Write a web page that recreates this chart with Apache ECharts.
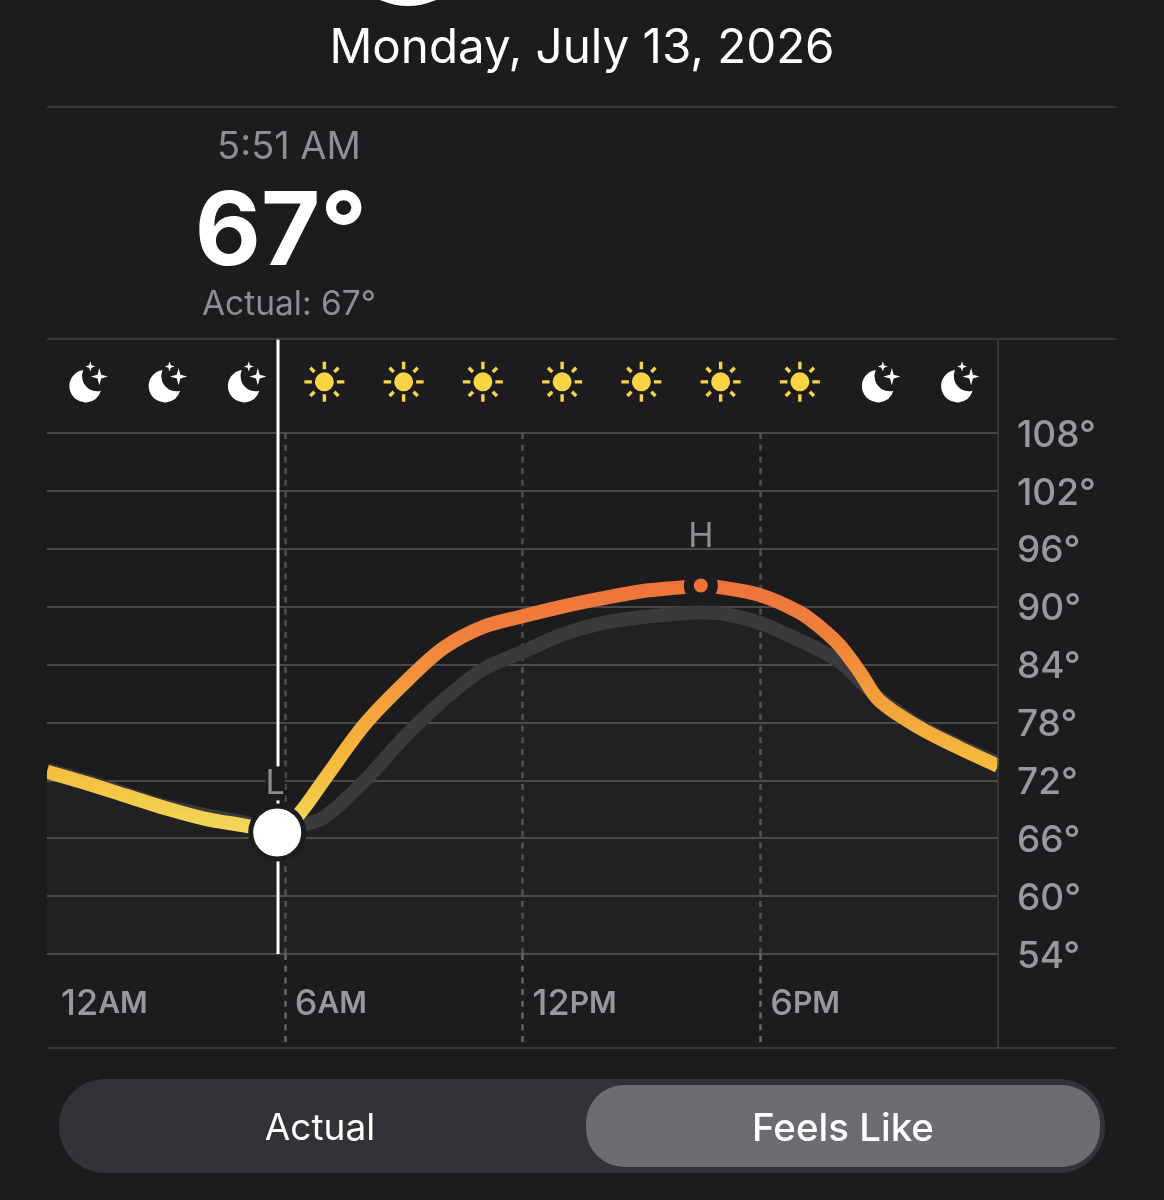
<!DOCTYPE html>
<html><head><meta charset="utf-8">
<style>html,body{margin:0;padding:0;background:#1c1c1e}#c{width:1164px;height:1200px}</style>
<script src="https://cdn.jsdelivr.net/npm/echarts@6/dist/echarts.min.js"></script>
</head><body><div id="c"></div>
<script>
const dateText = 'Monday, July 13, 2026';
const timeText = '5:51 AM';
const tempText = '67°';
const actualText = 'Actual: 67°';
const segLabels = ['Actual', 'Feels Like'];
const xTickLabels = { 0: ['12', 'AM'], 6: ['6', 'AM'], 12: ['12', 'PM'], 18: ['6', 'PM'] };

const hoursFeels = [0,1,2,3,4,5,5.85,6.38,7,8,9,10,11,12,13,14,15,16,16.5,17,18,19,19.5,20,20.5,21,22,23,24];
const feelsLike = [72.9,71.7,70.4,69.1,68,67.3,66.6,68.6,72.1,77.7,82,85.7,87.9,89,90,90.85,91.6,92,92.2,92,91.2,89.4,87.9,86,83.3,80.3,77.5,75.4,73.5];
const actual = [73.1,71.9,70.6,69.3,68.4,67.6,66.8,67.3,68.2,71.9,76.4,80.3,83.5,85.3,87.1,88.3,88.9,89.3,89.4,89.3,88.3,86.5,85.5,84.3,82.4,80.5,77.7,75.6,73.8];

const nightHours = [1,3,5,21,23];
const dayHours = [7,9,11,13,15,17,19];
const iconLevel = 113.3;
const lowPoint = [5.81, 66.6];
const highPoint = [16.5, 92.2];
const cursorHour = 5.83;
const cursorTop = 117.8;
const axisMin = 54;

const FONT = 'Inter, "Noto Sans", sans-serif';
const GREY = '#8e8e93';
const AXIS_GREY = '#98989d';
const BG = '#1c1c1e';
const RULE = '#48484b';
const SUN = 'path://M20 10.5a9.5 9.5 0 1 0 0 19a9.5 9.5 0 1 0 0-19zM18.3 0h3.4v7.5h-3.4zM18.3 32.5h3.4V40h-3.4zM0 18.3h7.5v3.4H0zM32.5 18.3H40v3.4h-7.5zM31.1 28.7L35.3 32.9L32.9 35.3L28.7 31.1zM31.1 11.3L35.3 7.1L32.9 4.7L28.7 8.9zM8.9 11.3L4.7 7.1L7.1 4.7L11.3 8.9zM8.9 28.7L4.7 32.9L7.1 35.3L11.3 31.1z';
const MOON = 'path://M14 8.5A16 16 0 1 0 31.5 29A15 15 0 0 1 14 8.5zM30 6.5L31.8 13.2L38.5 15L31.8 16.8L30 23.5L28.2 16.8L21.5 15L28.2 13.2zM21 0L22.2 3.8L26 5L22.2 6.2L21 10L19.8 6.2L16 5L19.8 3.8z';

function zip(xs, ys) { return xs.map((x, i) => [x, ys[i]]); }
function rule(x1, y1, x2, y2) {
  return { type: 'line', silent: true, z: 30, shape: { x1, y1, x2, y2 }, style: { stroke: '#3f3f42', lineWidth: 1.5 } };
}
function label(text, x, y, size, color, weight, align) {
  return { type: 'text', silent: true, x, y, z: 5, style: { text, fill: color, font: `${weight} ${size}px ${FONT}`, textAlign: align || 'center', textVerticalAlign: 'middle' } };
}
function edgeMask(x, y, width, height) {
  return { type: 'rect', silent: true, z: 20, shape: { x, y, width, height }, style: { fill: BG } };
}

const chart = echarts.init(document.getElementById('c'), null, { renderer: 'canvas' });
chart.setOption({
  backgroundColor: BG,
  animation: false,
  grid: { left: 47, right: 166, top: 433, height: 521, containLabel: false },
  xAxis: {
    type: 'value', min: 0, max: 24, interval: 6,
    axisLine: { show: false },
    axisTick: { show: true, customValues: [6, 12, 18], length: 88, lineStyle: { color: '#68686c', width: 2.5, type: [6, 5.7] } },
    splitLine: { show: true, lineStyle: { color: '#505054', width: 2.5, type: [6, 5.7] } },
    axisLabel: {
      show: true, align: 'left', margin: 32, showMaxLabel: false,
      formatter: v => {
        const t = xTickLabels[v];
        if (!t) return '';
        const tag = v === 0 ? 'f' : 'n';
        return `{${tag}|${t[0]}}{u|${t[1]}}`;
      },
      rich: {
        f: { fontFamily: FONT, fontSize: 36, fontWeight: 500, color: AXIS_GREY, padding: [0, 0, 0, 14] },
        n: { fontFamily: FONT, fontSize: 36, fontWeight: 500, color: AXIS_GREY, padding: [0, 0, 0, 10] },
        u: { fontFamily: FONT, fontSize: 30, fontWeight: 600, color: AXIS_GREY }
      }
    }
  },
  yAxis: {
    type: 'value', position: 'right', min: axisMin, max: 108, interval: 6,
    axisLine: { show: false }, axisTick: { show: false },
    splitLine: { show: true, lineStyle: { color: RULE, width: 2 } },
    axisLabel: {
      show: true, formatter: '{t|{value}°}', align: 'left', margin: 19,
      rich: { t: { fontFamily: FONT, fontSize: 37, fontWeight: 500, color: AXIS_GREY, padding: [5, 0, 0, 0] } }
    }
  },
  graphic: [
    { type: 'circle', silent: true, shape: { cx: 408, cy: -62, r: 68 }, style: { fill: '#ffffff' } },
    edgeMask(36, 750, 11, 40), edgeMask(999, 740, 12, 40),
    rule(47, 107, 1116, 107), rule(47, 339, 1116, 339), rule(47, 1048, 1116, 1048), rule(998, 339, 998, 1048),
    label(dateText, 582, 49, 47.5, '#ffffff', 400),
    label(timeText, 289, 148, 38, GREY, 400),
    label(tempText, 281, 234, 102, '#ffffff', 700),
    label(actualText, 289, 305, 33.5, GREY, 400),
    { type: 'rect', silent: true, shape: { x: 59, y: 1079, width: 1046, height: 94, r: 46 }, style: { fill: '#323237' } },
    { type: 'rect', silent: true, z: 2, shape: { x: 586, y: 1085, width: 514, height: 82, r: 38 }, style: { fill: '#6c6c72' } },
    label(segLabels[0], 320, 1129, 37, '#ffffff', 400),
    label(segLabels[1], 843, 1129, 38.5, '#ffffff', 500)
  ],
  series: [
    {
      name: 'Actual', type: 'line', data: zip(hoursFeels, actual), smooth: 0.33, symbol: 'none', z: 2,
      lineStyle: { color: '#3a3a3c', width: 14, cap: 'butt' },
      areaStyle: { color: 'rgba(255,255,255,0.03)' }
    },
    {
      name: 'Feels Like', type: 'line', data: zip(hoursFeels, feelsLike), smooth: 0.33, symbol: 'none', z: 3,
      lineStyle: {
        width: 14, cap: 'butt',
        color: new echarts.graphic.LinearGradient(0, 1, 0, 0, [
          { offset: 0, color: '#f2dc5d' },
          { offset: 0.27, color: '#f6bd3c' },
          { offset: 0.54, color: '#f49f39' },
          { offset: 0.78, color: '#f0803b' },
          { offset: 1, color: '#ef7239' }
        ])
      }
    },
    {
      name: 'Cursor', type: 'line', data: [[cursorHour, axisMin], [cursorHour, cursorTop]], symbol: 'none', clip: false, z: 4,
      lineStyle: { color: '#ffffff', width: 3 }
    },
    {
      name: 'Low', type: 'scatter', data: [lowPoint], symbol: 'circle', symbolSize: 53, clip: false, z: 5,
      itemStyle: { color: '#ffffff', borderColor: BG, borderWidth: 5, opacity: 1 },
      label: { show: true, formatter: 'L', position: 'top', distance: 3, offset: [-2, 0], fontFamily: FONT, fontSize: 34, fontWeight: 400, color: GREY, backgroundColor: BG }
    },
    {
      name: 'High', type: 'scatter', data: [highPoint], symbol: 'circle', symbolSize: 24, clip: false, z: 5,
      itemStyle: { color: '#ef7239', borderColor: BG, borderWidth: 10, opacity: 1 },
      label: { show: true, formatter: 'H', position: 'top', distance: 15, fontFamily: FONT, fontSize: 34, fontWeight: 400, color: GREY }
    },
    {
      name: 'Night', type: 'scatter', data: nightHours.map(h => [h, iconLevel]), symbol: MOON, symbolSize: [38.5, 41], symbolOffset: [2, 0], clip: false, z: 5,
      itemStyle: { color: '#ffffff', opacity: 1 }
    },
    {
      name: 'Day', type: 'scatter', data: dayHours.map(h => [h, iconLevel]), symbol: SUN, symbolSize: 40, clip: false, z: 5,
      itemStyle: { color: '#f9d443', opacity: 1 }
    }
  ]
});
</script></body></html>
